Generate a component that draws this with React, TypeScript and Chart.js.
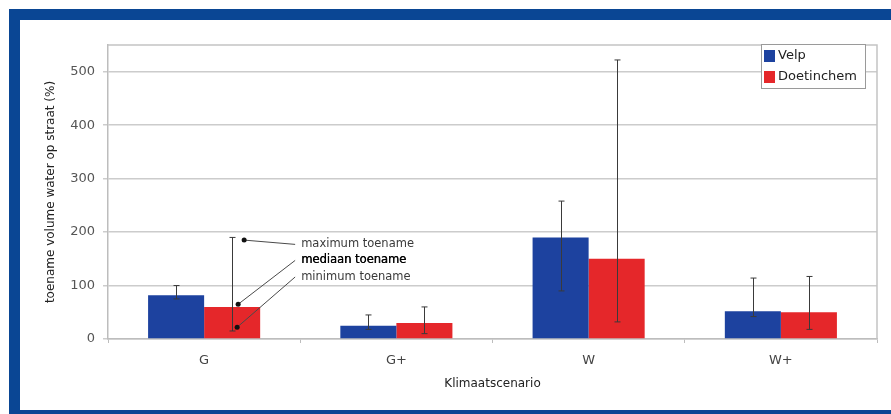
import React, { useEffect, useRef } from "react";
import { Chart, registerables } from "chart.js";

Chart.register(...registerables);

// ---- data ----
const categories = ["G", "G+", "W", "W+"];
const seriesLabels = ["Velp", "Doetinchem"];
const velpMedian = [82, 25, 190, 52];
const velpMin = [75, 18, 90, 42];
const velpMax = [100, 45, 258, 114];
const doetMedian = [60, 30, 150, 50];
const doetMin = [15, 10, 32, 18];
const doetMax = [190, 60, 522, 117];
const yTickValues = [0, 100, 200, 300, 400, 500];
const yMin = 0;
const yMax = 550;
const yTitle = "toename volume water op straat (%)";
const xTitle = "Klimaatscenario";
const annotationLabels = ["maximum toename", "mediaan toename", "minimum toename"];
const annotationPointValues = [185, 65, 22];
const annotationTextValues = [177, 147, 116];

const FONT = "'DejaVu Sans', Verdana, sans-serif";
const BLUE = "#1d429f";
const RED = "#e5272a";

const errorBarPlugin = {
  id: "errorBars",
  afterDatasetsDraw(chart: any) {
    const ctx = chart.ctx;
    const ys = chart.scales.y;
    chart.data.datasets.forEach((ds: any, di: number) => {
      const meta = chart.getDatasetMeta(di);
      meta.data.forEach((bar: any, i: number) => {
        const x = Math.round(bar.x) + 0.5;
        const yHi = ys.getPixelForValue(ds.errMax[i]);
        const yLo = ys.getPixelForValue(ds.errMin[i]);
        ctx.save();
        ctx.strokeStyle = "#3a3a3a";
        ctx.lineWidth = 1;
        ctx.beginPath();
        ctx.moveTo(x, yHi);
        ctx.lineTo(x, yLo);
        ctx.moveTo(x - 3, yHi);
        ctx.lineTo(x + 3, yHi);
        ctx.moveTo(x - 3, yLo);
        ctx.lineTo(x + 3, yLo);
        ctx.stroke();
        ctx.restore();
      });
    });
  },
};

const framePlugin = {
  id: "frame",
  beforeDatasetsDraw(chart: any) {
    const { ctx, chartArea } = chart;
    ctx.save();
    ctx.strokeStyle = "#c4c4c4";
    ctx.lineWidth = 1.5;
    ctx.beginPath();
    ctx.moveTo(chartArea.left, chartArea.top);
    ctx.lineTo(chartArea.right, chartArea.top);
    ctx.lineTo(chartArea.right, chartArea.bottom);
    ctx.stroke();
    ctx.restore();
  },
};

const annotationPlugin = {
  id: "annotations",
  afterDraw(chart: any) {
    const ctx = chart.ctx;
    const ys = chart.scales.y;
    const bar = chart.getDatasetMeta(1).data[0];
    const dxs = [12, 6, 5];
    const textX = bar.x + 69;
    ctx.save();
    annotationLabels.forEach((label, k) => {
      const px = bar.x + dxs[k];
      const py = ys.getPixelForValue(annotationPointValues[k]);
      const ty = ys.getPixelForValue(annotationTextValues[k]);
      ctx.strokeStyle = "#4a4a4a";
      ctx.lineWidth = 1;
      ctx.beginPath();
      ctx.moveTo(px, py);
      ctx.lineTo(textX - 6, ty);
      ctx.stroke();
      ctx.fillStyle = "#111";
      ctx.beginPath();
      ctx.arc(px, py, 2.5, 0, Math.PI * 2);
      ctx.fill();
      ctx.fillStyle = k === 1 ? "#000" : "#3a3a3a";
      ctx.font = "11.5px " + FONT;
      ctx.textBaseline = "middle";
      ctx.textAlign = "left";
      ctx.fillText(label, textX, ty);
      if (k === 1) ctx.fillText(label, textX + 0.4, ty);
    });
    ctx.restore();
  },
};

const legendPlugin = {
  id: "boxLegend",
  afterDraw(chart: any) {
    const { ctx, chartArea } = chart;
    const right = chartArea.right - 12;
    const top = chartArea.top - 1;
    const w = 104;
    const h = 44;
    const left = right - w;
    ctx.save();
    ctx.fillStyle = "#fff";
    ctx.fillRect(left, top, w, h);
    ctx.strokeStyle = "#9a9a9a";
    ctx.lineWidth = 1;
    ctx.strokeRect(left + 0.5, top + 0.5, w, h);
    ctx.font = "13px " + FONT;
    ctx.textBaseline = "middle";
    ctx.textAlign = "left";
    chart.data.datasets.forEach((ds: any, i: number) => {
      const cy = top + 12 + i * 21;
      ctx.fillStyle = ds.backgroundColor;
      ctx.fillRect(left + 3, cy - 6, 11, 12);
      ctx.fillStyle = "#222";
      ctx.fillText(ds.label, left + 17, cy);
    });
    ctx.restore();
  },
};

export default function App() {
  const ref = useRef<HTMLCanvasElement | null>(null);

  useEffect(() => {
    document.body.style.overflow = "hidden";
    const canvas = ref.current;
    if (!canvas) return;
    const chart = new Chart(canvas, {
      type: "bar",
      data: {
        labels: categories,
        datasets: [
          {
            label: seriesLabels[0],
            data: velpMedian,
            backgroundColor: BLUE,
            errMin: velpMin,
            errMax: velpMax,
            categoryPercentage: 0.583,
            barPercentage: 1,
          } as any,
          {
            label: seriesLabels[1],
            data: doetMedian,
            backgroundColor: RED,
            errMin: doetMin,
            errMax: doetMax,
            categoryPercentage: 0.583,
            barPercentage: 1,
          } as any,
        ],
      },
      options: {
        responsive: false,
        maintainAspectRatio: false,
        animation: false,
        layout: { padding: { top: 25, right: 14, left: 0, bottom: 0 } },
        plugins: {
          legend: { display: false },
          tooltip: { enabled: false },
        },
        scales: {
          x: {
            afterFit: (s: any) => {
              s.height = 71;
            },
            grid: {
              display: true,
              drawOnChartArea: false,
              drawTicks: true,
              tickLength: 4,
              color: "#bdbdbd",
              offset: true,
            },
            border: { display: true, color: "#bdbdbd", width: 1.5 },
            ticks: {
              color: "#444",
              font: { family: FONT, size: 13 },
              padding: 10,
            },
            title: {
              display: true,
              text: xTitle,
              color: "#222",
              font: { family: FONT, size: 12 },
              padding: { top: 0, bottom: 19 },
            },
          },
          y: {
            min: yMin,
            max: yMax,
            afterFit: (s: any) => {
              s.width = 88;
            },
            afterBuildTicks: (s: any) => {
              s.ticks = yTickValues.map((v) => ({ value: v }));
            },
            grid: {
              color: "#cccccc",
              lineWidth: 1.5,
              drawTicks: true,
              tickLength: 5,
            },
            border: { display: true, color: "#bdbdbd", width: 1.5 },
            ticks: {
              color: "#555",
              font: { family: FONT, size: 13 },
              padding: 8,
            },
            title: {
              display: true,
              text: yTitle,
              color: "#222",
              font: { family: FONT, size: 12 },
              padding: { top: 24, bottom: 0 },
            },
          },
        },
      },
      plugins: [framePlugin, errorBarPlugin, annotationPlugin, legendPlugin],
    });
    return () => chart.destroy();
  }, []);

  return (
    <div
      style={{
        position: "fixed",
        left: 9,
        top: 9,
        width: 871,
        height: 390,
        borderTop: "11px solid #0a4694",
        borderLeft: "11px solid #0a4694",
        borderBottom: "11px solid #0a4694",
        background: "#fff",
      }}
    >
      <canvas ref={ref} width={871} height={390} style={{ display: "block" }} />
    </div>
  );
}
